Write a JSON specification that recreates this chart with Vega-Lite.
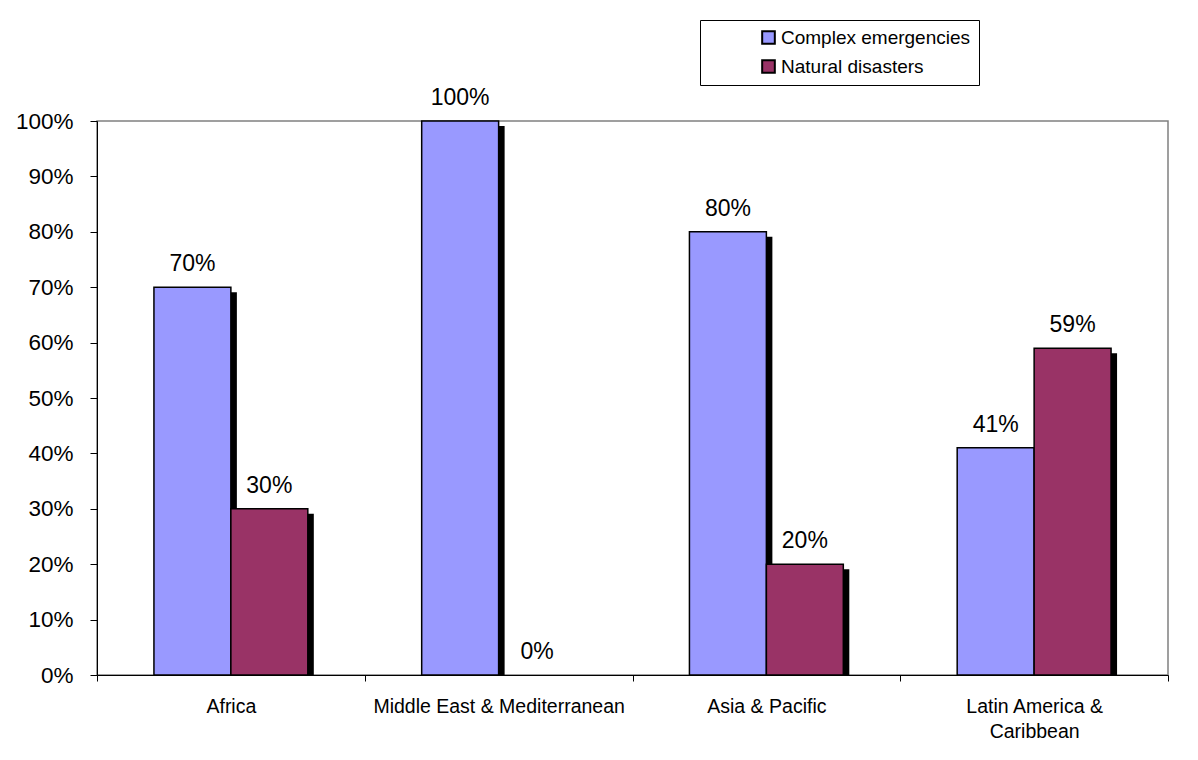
{
  "$schema": "https://vega.github.io/schema/vega-lite/v6.json",
  "autosize": "none",
  "width": 1071,
  "height": 554,
  "padding": {"left": 97, "top": 121, "right": 30, "bottom": 85},
  "background": "white",
  "data": {
    "values": [
      {"region": "Africa", "type": "Complex emergencies", "value": 0.70},
      {"region": "Africa", "type": "Natural disasters", "value": 0.30},
      {"region": "Middle East & Mediterranean", "type": "Complex emergencies", "value": 1.00},
      {"region": "Middle East & Mediterranean", "type": "Natural disasters", "value": 0.00},
      {"region": "Asia & Pacific", "type": "Complex emergencies", "value": 0.80},
      {"region": "Asia & Pacific", "type": "Natural disasters", "value": 0.20},
      {"region": "Latin America & Caribbean", "type": "Complex emergencies", "value": 0.41},
      {"region": "Latin America & Caribbean", "type": "Natural disasters", "value": 0.59}
    ]
  },
  "layer": [
    {
      "transform": [{"filter": "datum.value > 0"}],
      "mark": {"type": "bar", "color": "black", "clip": true},
      "encoding": {
        "x": {
          "field": "region", "type": "nominal", "sort": null,
          "scale": {"paddingInner": 0, "paddingOuter": 0},
          "axis": {
            "title": null, "labelAngle": 0, "tickBand": "extent", "tickSize": 6,
            "labelFont": "Liberation Sans", "labelFontSize": 19.5, "labelColor": "black",
            "labelPadding": 16, "labelLineHeight": 25, "labelLimit": 400,
            "labelExpr": "datum.value == 'Latin America & Caribbean' ? ['Latin America &', 'Caribbean'] : datum.value",
            "domainColor": "black", "tickColor": "black"
          }
        },
        "xOffset": {"field": "type", "type": "nominal", "scale": {"paddingInner": 0, "paddingOuter": 0.74, "range": [6, 273.75]}},
        "y": {"field": "value", "type": "quantitative", "scale": {"domain": [0, 1], "nice": false, "range": [559, 5]}, "axis": null}
      }
    },
    {
      "layer": [
        {
          "transform": [{"filter": "datum.value > 0"}],
          "mark": {"type": "bar", "stroke": "black", "strokeWidth": 1.5},
          "encoding": {
            "color": {
              "field": "type", "type": "nominal",
              "scale": {"domain": ["Complex emergencies", "Natural disasters"], "range": ["#9999FF", "#993366"]},
              "legend": {
                "title": null, "orient": "none", "legendX": 603, "legendY": -101,
                "direction": "vertical", "strokeColor": "black", "fillColor": "white",
                "padding": 8, "symbolOffset": 51, "symbolType": "square", "symbolSize": 160,
                "symbolStrokeColor": "black", "symbolStrokeWidth": 2,
                "labelFont": "Liberation Sans", "labelFontSize": 19, "labelColor": "black",
                "labelLimit": 400, "labelOffset": 3, "rowPadding": 8
              }
            }
          }
        },
        {
          "mark": {"type": "text", "baseline": "bottom", "dy": -11, "font": "Liberation Sans", "fontSize": 23, "color": "black"},
          "encoding": {"text": {"field": "value", "type": "quantitative", "format": ".0%"}}
        }
      ],
      "encoding": {
        "x": {
          "field": "region", "type": "nominal", "sort": null,
          "scale": {"paddingInner": 0, "paddingOuter": 0}
        },
        "xOffset": {
          "field": "type", "type": "nominal",
          "scale": {"paddingInner": 0, "paddingOuter": 0.74}
        },
        "y": {
          "field": "value", "type": "quantitative",
          "scale": {"domain": [0, 1], "nice": false},
          "axis": {
            "title": null, "format": ".0%", "values": [0, 0.1, 0.2, 0.3, 0.4, 0.5, 0.6, 0.7, 0.8, 0.9, 1.0],
            "grid": false, "tickSize": 7, "labelPadding": 17,
            "labelFont": "Liberation Sans", "labelFontSize": 22.5, "labelColor": "black",
            "domainColor": "black", "tickColor": "black"
          }
        }
      }
    }
  ],
  "resolve": {"scale": {"xOffset": "independent", "y": "independent"}},
  "config": {
    "view": {"stroke": "#808080", "strokeWidth": 1.5}
  }
}
